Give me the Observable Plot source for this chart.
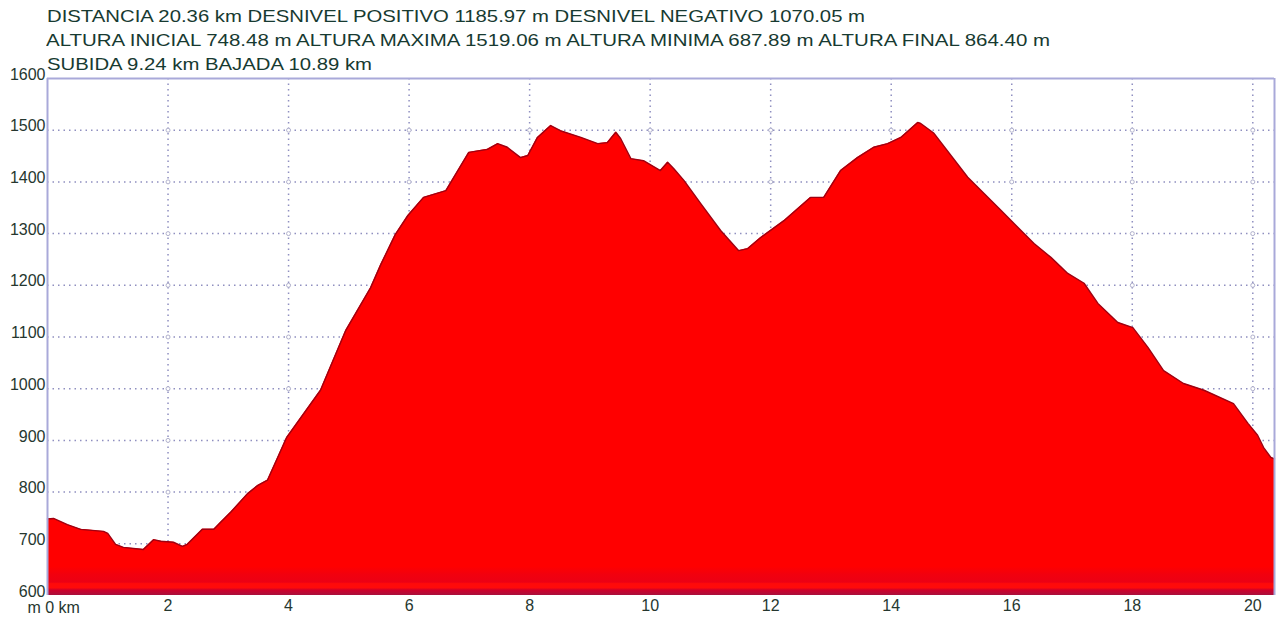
<!DOCTYPE html>
<html>
<head>
<meta charset="utf-8">
<script src="https://cdn.jsdelivr.net/npm/d3@7"></script>
<script src="https://cdn.jsdelivr.net/npm/@observablehq/plot@0.6"></script>
<style>
  html, body { margin: 0; padding: 0; background: #fff; }
  #wrap { position: relative; width: 1277px; height: 618px; overflow: hidden; }
  .ttl { position: absolute; left: 47px; font-family: "Liberation Sans", Arial, sans-serif; font-size: 17px; line-height: 17px; color: #173a31; white-space: nowrap; transform-origin: 0 0; }
</style>
</head>
<body>
<div id="wrap">
  <div id="chart"></div>
  <div class="ttl" id="t1" style="top:8px"></div>
  <div class="ttl" id="t2" style="top:32px;left:46px"></div>
  <div class="ttl" id="t3" style="top:56px"></div>
</div>
<script>
// ---- data ----
const titleLines = [
  "DISTANCIA 20.36 km DESNIVEL POSITIVO 1185.97 m DESNIVEL NEGATIVO 1070.05 m",
  "ALTURA INICIAL 748.48 m ALTURA MAXIMA 1519.06 m ALTURA MINIMA 687.89 m ALTURA FINAL 864.40 m",
  "SUBIDA 9.24 km BAJADA 10.89 km"
];
const titleWidths = [818, 1004, 325];

const distKm = [0, 0.10, 0.33, 0.55, 0.93, 1.00, 1.13, 1.26, 1.59, 1.76, 1.88, 2.09, 2.24, 2.32, 2.57, 2.76, 2.87, 3.04, 3.32, 3.49, 3.65, 3.82, 3.97, 4.53, 4.95, 5.36, 5.53, 5.77, 5.98, 6.24, 6.61, 6.99, 7.30, 7.47, 7.63, 7.85, 7.97, 8.13, 8.35, 8.51, 8.85, 9.13, 9.29, 9.43, 9.51, 9.68, 9.89, 10.17, 10.29, 10.39, 10.56, 10.84, 11.17, 11.47, 11.62, 11.83, 12.22, 12.66, 12.88, 13.16, 13.44, 13.71, 13.94, 14.16, 14.44, 14.49, 14.71, 15.27, 15.82, 16.37, 16.65, 16.93, 17.20, 17.43, 17.76, 18.01, 18.26, 18.52, 18.85, 19.19, 19.68, 19.92, 20.08, 20.18, 20.30, 20.36];
const elevM = [748, 749, 737, 728, 724, 720, 699, 693, 689, 708, 705, 703, 695, 699, 728, 728, 741, 761, 797, 813, 823, 867, 906, 997, 1113, 1195, 1240, 1298, 1335, 1370, 1383, 1457, 1463, 1474, 1467, 1447, 1451, 1486, 1509, 1499, 1486, 1474, 1476, 1496, 1484, 1445, 1441, 1422, 1438, 1426, 1403, 1358, 1306, 1267, 1271, 1292, 1325, 1370, 1370, 1422, 1447, 1467, 1474, 1486, 1515, 1513, 1494, 1409, 1345, 1281, 1254, 1223, 1204, 1165, 1128, 1118, 1080, 1035, 1010, 997, 971, 933, 910, 886, 867, 864];

const xTickValues = [2, 4, 6, 8, 10, 12, 14, 16, 18, 20];
const yTickValues = [600, 700, 800, 900, 1000, 1100, 1200, 1300, 1400, 1500, 1600];
const zeroLabel = "m 0 km";

// ---- build ----
const profile = distKm.map((k, i) => ({km: k, elev: elevM[i]}));
const gridY = yTickValues.filter(v => v > 600 && v < 1600);
const gridColor = "#8f8fc0";
const frameColor = "#a9a9d9";
const inter = [];
for (const xv of xTickValues) for (const yv of gridY) inter.push({x: xv, y: yv});

const chart = Plot.plot({
  width: 1277,
  height: 618,
  marginLeft: 47,
  marginRight: 3,
  marginTop: 78,
  marginBottom: 23,
  x: {domain: [0, 20.36]},
  y: {domain: [600, 1600]},
  style: {fontFamily: "'Liberation Sans', Arial, sans-serif", fontSize: "16px", color: "#26372f", background: "#fff"},
  marks: [
    Plot.ruleY(gridY, {stroke: gridColor, strokeDasharray: "1.5,4", strokeWidth: 1.5}),
    Plot.ruleX(xTickValues, {stroke: gridColor, strokeDasharray: "1.5,4", strokeWidth: 1.5}),
    Plot.dot(inter, {x: "x", y: "y", r: 2, stroke: "#b0b0cc", fill: "#fff", strokeWidth: 1}),
    Plot.areaY(profile, {x: "km", y1: 600, y2: "elev", fill: "url(#elevGrad)"}),
    Plot.lineY(profile, {x: "km", y: "elev", stroke: "#a00010", strokeWidth: 1.4}),
    Plot.ruleX([0], {stroke: frameColor, strokeWidth: 2}),
    Plot.ruleY([1600], {stroke: frameColor, strokeWidth: 2}),
    Plot.ruleX([20.36], {stroke: frameColor, strokeWidth: 2}),
    Plot.axisY(yTickValues, {tickSize: 0, tickPadding: 2, dy: -4, tickFormat: d => String(d)}),
    Plot.axisX(xTickValues, {tickSize: 0, tickPadding: 4, tickFormat: d => String(d)}),
    Plot.text([{x: 0, y: 600, t: zeroLabel}], {x: "x", y: "y", text: "t", textAnchor: "start", dx: -20, dy: 12, fill: "#26372f"})
  ]
});

// gradient for the filled profile
const ns = "http://www.w3.org/2000/svg";
const defs = document.createElementNS(ns, "defs");
const grad = document.createElementNS(ns, "linearGradient");
grad.setAttribute("id", "elevGrad");
grad.setAttribute("gradientUnits", "userSpaceOnUse");
grad.setAttribute("x1", "0"); grad.setAttribute("x2", "0");
grad.setAttribute("y1", "78"); grad.setAttribute("y2", "595");
[[0, "#ff0000"], [0.945, "#ff0000"], [0.96, "#f2000e"], [0.975, "#ec0014"], [0.978, "#ff0a0a"], [0.986, "#ff0a0a"], [0.99, "#d0002a"], [1, "#a8103c"]]
  .forEach(([o, c]) => {
    const s = document.createElementNS(ns, "stop");
    s.setAttribute("offset", o);
    s.setAttribute("stop-color", c);
    grad.appendChild(s);
  });
defs.appendChild(grad);
chart.insertBefore(defs, chart.firstChild);

document.getElementById("chart").appendChild(chart);

// titles, stretched to match reference widths
titleLines.forEach((t, i) => {
  const el = document.getElementById("t" + (i + 1));
  el.textContent = t;
  const w = el.getBoundingClientRect().width;
  el.style.transform = `scaleX(${titleWidths[i] / w})`;
});
</script>
</body>
</html>
